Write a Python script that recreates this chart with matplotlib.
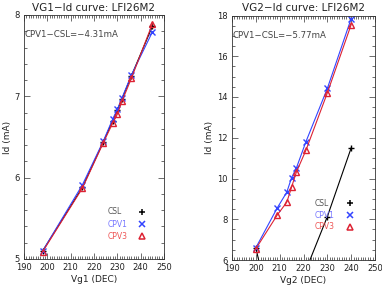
from matplotlib import pyplot as plt
from matplotlib.ticker import MultipleLocator
import numpy as np

# VG1 sweep
vg1 = [198, 215, 224, 228, 230, 232, 236, 245]
id1_csl = [5.10, 5.88, 6.44, 6.70, 6.83, 6.97, 7.25, 7.86]
id1_cpv1 = [5.10, 5.91, 6.45, 6.72, 6.84, 6.98, 7.26, 7.79]
id1_cpv3 = [5.09, 5.87, 6.43, 6.67, 6.78, 6.94, 7.22, 7.89]

# VG2 sweep
vg2 = [200, 209, 213, 215, 217, 221, 230, 240]
id2_cpv1 = [6.60, 8.56, 9.33, 10.04, 10.51, 11.80, 14.42, 17.85]
id2_cpv3 = [6.55, 8.21, 8.84, 9.58, 10.31, 11.38, 14.20, 17.55]
vg2_csl = [200, 209, 230, 240]
id2_csl = [6.60, 2.00, 8.13, 11.50]

diff_text = ["CPV1\u2212CSL=\u22124.31mA", "CPV1\u2212CSL=\u22125.77mA"]
labels = ["CSL", "CPV1", "CPV3"]

plt.rcParams['font.family'] = ['DejaVu Sans']
fig = plt.figure(figsize=(3.82, 2.89), dpi=100)
ax1 = fig.add_axes([24/382, 1-259/289, 140/382, 244/289])
ax2 = fig.add_axes([232/382, 1-260/289, 143/382, 244.5/289])

blue = '#3344ff'
red = '#dd2233'
label_colors = ['#555555', '#7777ff', '#ee5555']
markers = [dict(marker='+', color='k'),
           dict(marker='x', color=blue),
           dict(marker='^', mfc='none', mec=red)]

def style(ax, xlabel, title, ymaj, ymin):
    ax.set_xlim(190, 250)
    ax.xaxis.set_major_locator(MultipleLocator(10))
    ax.xaxis.set_minor_locator(MultipleLocator(1))
    ax.yaxis.set_major_locator(MultipleLocator(ymaj))
    ax.yaxis.set_minor_locator(MultipleLocator(ymin))
    ax.tick_params(which='both', direction='in', top=True, right=True,
                   labelsize=6, width=0.5, colors='#333333', labelcolor='#222222')
    ax.tick_params(which='major', length=4, pad=3)
    ax.tick_params(which='minor', length=2)
    for s in ax.spines.values():
        s.set_linewidth(0.6)
        s.set_color('#333333')
    ax.set_xlabel(xlabel, fontsize=6.5, labelpad=2, color='#222222')
    ax.set_ylabel("Id (mA)", fontsize=6.5, labelpad=2, color='#222222')
    ax.set_title(title, fontsize=7.5, pad=3, color='#222222')

def key(ax, xt, xm, ys):
    # hand-made legend: label on the left, symbol on the right
    for lab, col, mk, y in zip(labels, label_colors, markers, ys):
        ax.text(xt, y, lab, transform=ax.transAxes, fontsize=5.5,
                color=col, va='center', ha='left')
        ax.plot([xm], [y], transform=ax.transAxes, ls='none', ms=4.5,
                mew=1.1, clip_on=False, **mk)

# left panel
ax1.plot(vg1, id1_csl, color='k', lw=0.8, marker='+', ms=4, mew=1)
ax1.plot(vg1, id1_cpv1, color=blue, lw=0.8, marker='x', ms=4, mew=1)
ax1.plot(vg1, id1_cpv3, color=red, lw=0.8, marker='^', mfc='none', ms=4, mew=1)
ax1.set_ylim(5, 8)
style(ax1, "Vg1 (DEC)", "VG1\u2212Id curve: LFI26M2", 1, 0.2)
ax1.text(0.005, 0.92, diff_text[0], transform=ax1.transAxes, fontsize=6.2,
         color='#444444', va='center')
key(ax1, 0.6, 0.843, [0.193, 0.143, 0.094])

# right panel
ax2.plot(vg2_csl, id2_csl, color='k', lw=0.8, marker='+', ms=4, mew=1)
ax2.plot(vg2, id2_cpv1, color=blue, lw=0.8, marker='x', ms=4, mew=1)
ax2.plot(vg2, id2_cpv3, color=red, lw=0.8, marker='^', mfc='none', ms=4, mew=1)
ax2.set_ylim(6, 18)
style(ax2, "Vg2 (DEC)", "VG2\u2212Id curve: LFI26M2", 2, 0.5)
ax2.text(0.005, 0.92, diff_text[1], transform=ax2.transAxes, fontsize=6.2,
         color='#444444', va='center')
key(ax2, 0.58, 0.825, [0.233, 0.184, 0.135])

fig.savefig("out.png", dpi=100)
